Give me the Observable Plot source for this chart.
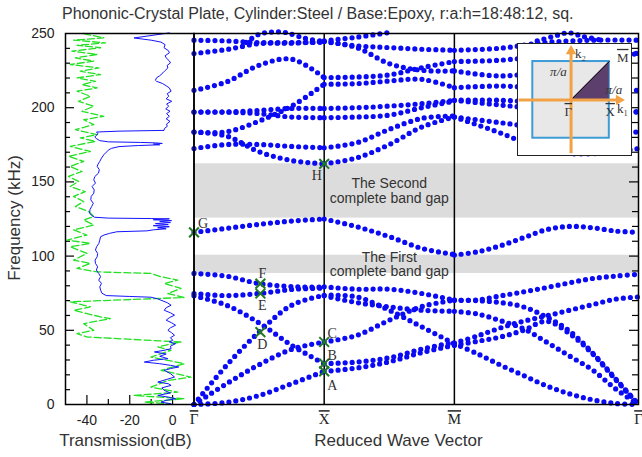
<!DOCTYPE html>
<html><head><meta charset="utf-8">
<script src="https://cdn.jsdelivr.net/npm/d3@7"></script>
<script src="https://cdn.jsdelivr.net/npm/@observablehq/plot@0.6"></script>
<style>
body{margin:0;background:#fff;font-family:"Liberation Sans",Arial,sans-serif;}
#wrap{position:relative;width:642px;height:457px;overflow:hidden;background:#fff;}
#wrap > svg, #wrap > figure{position:absolute;left:0;top:0;margin:0;}
#title{position:absolute;left:62px;top:5px;font-size:16px;color:#333;white-space:nowrap;}
#ylab{position:absolute;left:15px;top:218px;transform:translate(-50%,-50%) rotate(-90deg);font-size:17px;color:#333;white-space:nowrap;}
</style></head>
<body><div id="wrap"></div>
<script>
// ---------------- data ----------------
const titleText = "Phononic-Crystal Plate, Cylinder:Steel / Base:Epoxy, r:a:h=18:48:12, sq.";
const kX = 1, kM = 2, kEnd = 2 + Math.SQRT2;
const kTicks = [0, kX, kM, kEnd];
const kTickLabels = ["Γ", "X", "M", "Γ"];
const yTicks = [0, 50, 100, 150, 200, 250];
const dbTicks = [-40, -20, 0];

// fractions along each path segment
const u5 = [0, 0.25, 0.5, 0.75, 1];
const u9 = [0, 0.125, 0.25, 0.375, 0.5, 0.625, 0.75, 0.875, 1];

// Γ-X bands (kHz at u5)
const bandsGX = [
  [0, 1.4, 6.1, 14, 22.3],
  [0, 14, 26.8, 37.2, 42.1],
  [0, 26.4, 48.9, 66.9, 73.6],
  [73.2, 66.9, 55, 39.9, 27.5],
  [74.8, 73.4, 74.8, 77.5, 78.5],
  [88.3, 86.5, 81.5, 79.5, 79],
  [116, 118.7, 121.4, 123.6, 125],
  [183.6, 180.9, 170.3, 164.4, 162.2],
  [172.5, 175.2, 175.2, 173.9, 173],
  [183.6, 183.8, 191, 201.1, 215.8],
  [197.1, 197.1, 198.2, 199.5, 199.5],
  [197.1, 197, 196, 193.7, 193.3],
  [211.7, 217.4, 228.6, 232.7, 220.3],
  [236.5, 239.2, 243.2, 243.5, 244.6],
  [245.5, 245, 243.9, 243.9, 244.1]
];
// X-M bands (kHz at u5)
const bandsXM = [
  [125, 119.8, 113.1, 105.2, 101.1],
  [22.3, 24.6, 28.8, 35, 40],
  [27.5, 28.6, 31.5, 37.4, 41.8],
  [42.1, 46.6, 56.8, 66, 70.3],
  [73.6, 72.5, 63.5, 52.3, 41],
  [73.2, 68.7, 65.8, 63.5, 62.8],
  [79.3, 77.7, 77.7, 74.8, 70.3],
  [162.2, 166.2, 175.2, 187, 193.7],
  [173, 176.4, 185.4, 192.8, 194.4],
  [193.3, 193.7, 195, 200, 204.5],
  [199.5, 200, 201.1, 202.7, 205],
  [220.3, 220.7, 222.1, 227, 231.1],
  [215.8, 216.2, 218, 219.1, 213.5],
  [244.6, 240.5, 229.7, 225.2, 224.8],
  [244.6, 241.7, 240.5, 239.4, 238.7]
];
// M-Γ lower bands (kHz at u9)
const bandsMGlow = [
  [100.7, 102.9, 107, 112.4, 117.8, 120, 119.1, 116.9, 116],
  [70.3, 70.5, 73.2, 75.9, 78.8, 82, 84.9, 86.5, 87.8],
  [41.4, 46.2, 51.6, 56.1, 59.7, 63.5, 67.3, 71, 72.5],
  [39.9, 42.6, 45.5, 50, 56.1, 47.8, 34.3, 16.9, 0],
  [70.3, 70, 68.7, 65.8, 59, 49.5, 34.8, 17.4, 0],
  [62.8, 61, 56.5, 51.1, 42.1, 32.7, 23.3, 10.6, 0],
  [41, 34.2, 26.6, 19.6, 12.6, 7.2, 3.2, 0.7, 0]
];
// M-Γ upper bands (kHz at u5)
const bandsMGhigh = [
  [193.7, 183, 171, 169, 172.5],
  [193.7, 189.9, 186, 184, 183.6],
  [205, 205, 203, 200, 197.1],
  [205, 201.8, 199, 198, 197.1],
  [213.5, 214.6, 213, 212, 211.7],
  [224.8, 221.4, 225, 232, 236.5],
  [231.1, 232, 235, 237, 236.5],
  [238.7, 240.1, 244, 245.5, 245.5]
];
// short bands near the top edge
const gxTopU = [0.4, 0.5, 0.6, 0.7, 0.85, 1];
const gxTopF = [244, 249.5, 251, 250.7, 246.8, 244.6];
const xmTopU = [0, 0.25, 0.5];
const xmTopF = [245, 247.5, 250.7];
const mgTopU = [0.45, 0.55, 0.62, 0.7, 0.8];
const mgTopF = [245, 248.5, 250.5, 248, 245.5];

// complete band gaps (kHz)
const gapLo = [88.3, 125.6];
const gapHi = [100.6, 162.2];
const gapNames = ["The First\ncomplete band gap", "The Second\ncomplete band gap"];

// marked modes
const markLabels = ["A", "B", "C", "D", "E", "F", "G", "H"];
const markK = [1, 1, 1, 0.51, 0.51, 0.51, 0, 1];
const markF = [22.3, 27.5, 42.1, 48.8, 74.8, 81.5, 116, 162.2];

// transmission spectra (kHz, dB)
const blueF = [250.4,247,245.5,244.2,242.5,240.4,238.5,237,235,233.6,231.5,230.2,228.5,226.8,225,223.5,221.5,220.1,218.5,217.8,216.3,214.8,213.3,211.1,209.5,207.7,206,204.3,202.5,201,199.2,197.6,196,194.2,192.5,190.8,189,187.4,186,184.7,184.2,183.6,182.4,181.2,180.2,179,177.8,177,176.6,176.3,175.9,175.5,175,174.5,173.8,172.6,171.7,170,168.3,166,163.8,162,160.4,158.2,155.9,153.6,151.4,149.2,146.9,144.6,142.4,140.2,137.9,135.6,133.4,131.2,128.9,127.4,126.2,125.6,125.3,125.1,124.5,123.9,123.3,122.6,121.9,121.2,120.5,119.8,119.1,118.4,117.7,117,116.4,115.3,114.2,113.1,110.8,108.6,106.3,104.1,101.8,99.6,97.3,95.1,92.8,90.6,88.3,86.1,83.8,81.6,79.3,77.1,75,73.4,72.8,72.3,71.2,70.3,68.6,66.9,65.2,63.5,61.8,60.2,58.5,56.8,55.1,53.4,51.7,50,48.4,46.7,45,43.3,42.2,41,39.3,37.6,36.5,35.4,34,32.5,30.9,29.8,28.6,27.5,26.4,25.3,24.2,23,20.8,18.5,16.8,15.1,14,12.9,11.2,9.5,7.8,6.1,5,3.9,2.8,1.6,0.5];
const blueDb = [-1.5,-18,-10,-5.4,-3.5,-4,-2,-1.5,-3.5,-3,-1.5,-1,-2.5,-2.2,-3.5,-4.5,-6,-7.5,-8,-7.5,-4.7,-3,-1.5,-0.7,-2.5,-1.8,-3,-0.4,-2.8,-1.8,-3.2,-1.2,-2.8,-1.5,-3,-1.2,-2.8,-2.5,-3.8,-4,-25,-35.5,-34.8,-35.8,-36.3,-35.4,-34,-30,-15,-8,-4.8,-9,-6,-16,-25,-28.5,-29.7,-31,-32.1,-33.2,-34,-34.8,-35.2,-34.2,-34.6,-36.3,-36.8,-36,-37.6,-36.6,-36.8,-38,-38.2,-37,-37.8,-38.6,-38.7,-37.8,-36.5,-30,-10,-1.5,-9,-0.5,-6,-1,-8,-2,-9,-1.5,-7,-3,-9,-12,-26,-29.5,-32,-33.6,-34,-34.4,-35.5,-36,-35,-35.2,-36.2,-36,-35,-35.6,-34.5,-33.6,-34.5,-33.2,-34,-33.6,-33,-31,-20,-10.1,-7,-5.4,-2.5,-0.7,-3,-3.9,-1,0.9,-1.5,-3,-0.5,1.4,-1,-2.2,-0.5,0.9,-1,0.1,-1.5,1.4,-1,-0.7,-4,-8.5,-3,-6,-2.2,-9,-13.2,-6,-1,2.9,-1,-3.9,-1,0.9,-3,-6.9,-2,-0.7,-5,-3.9,-1,-6.9,-2,1.4,-3,-5.4,-0.7];
const greenF = [250,249.4,247.1,245.5,243.7,242,240.4,238.1,235.9,233.6,231.4,229.1,226.8,224.6,222.3,220.1,217.8,215.6,213.3,211.1,207.7,204.3,201,197.6,194.2,191.9,188.6,185.2,181.8,179.6,177.3,173.9,170.5,167.2,163.8,160.4,157,153.7,150.3,146.9,143.5,140.2,136.8,133.4,130,126.6,124.3,121,117.6,114.2,110.8,108.6,106.3,101.8,97.3,95.1,91.7,89.4,88.3,86.1,83.8,81.6,78.2,74.8,72.1,69.2,65.8,63.5,59,57.9,54.5,50,47.8,45.5,42.1,38.8,36.5,32,27.5,23,18.5,16.2,11.7,8.4,6.1,3.9,1.6,0.5];
const greenDb = [-41.5,-40,-32.1,-46.2,-31.3,-44.6,-33.6,-47,-35.2,-45.4,-36.8,-47.8,-34.4,-43.1,-33.6,-44.6,-36,-42.3,-35.2,-44.6,-38.4,-43.9,-36.8,-42.3,-32.1,-41.5,-36.8,-45.4,-35.2,-43.1,-36,-47.8,-38.4,-48.6,-41.5,-47.8,-42.3,-48.6,-43.9,-47.8,-40.8,-46.2,-41.5,-45.4,-39.2,-36.8,-41.5,-36.8,-46.2,-40,-49.3,-38.4,-47.8,-40,-46.2,-38.4,-44.6,-35.2,-10.1,-5.4,2.4,-3.9,3.9,-2.2,5.3,-47.8,-38.4,-46.2,-33.6,-29,-41.5,-36.8,-44.6,-39.9,3.9,-6.9,-0.7,-10.1,5.5,-5.4,8.6,-2.2,-10.1,2.4,-18,5.5,-13.2,-2.2];

// inset: first Brillouin zone (units of π/a)
const bzHalf = 1;
const ibzX = [0, 1];
const insetLabels = ["k₂", "M", "Γ", "X", "k₁"];
const insetLabelU = [0.1, 1.2, -0.17, 0.9, 1.2];
const insetLabelV = [1.2, 1.1, -0.31, -0.31, -0.23];
const piLabelU = [-0.33, 1.12];
const piLabelV = [0.74, 0.27];

// ---------------- build ----------------
const W = 642, H = 457;
const mL = 193.5, mR = 4, mT = 33, mB = 53;
const pxPerK = (W - mL - mR) / kEnd;
const pxPerF = (H - mT - mB) / 250;
const serif = "Liberation Serif, Times New Roman, serif";
const sans = "Liberation Sans, Arial, sans-serif";

const rows = [];
let bandId = 0;
function addLines(lines, grid, k0, len) {
  for (const f of lines) {
    const b = bandId++;
    f.forEach((v, i) => rows.push({band: b, k: k0 + grid[i] * len, f: v}));
  }
}
addLines(bandsGX, u5, 0, 1);
addLines(bandsXM, u5, kX, 1);
addLines(bandsMGlow, u9, kM, Math.SQRT2);
addLines(bandsMGhigh, u5, kM, Math.SQRT2);
addLines([gxTopF], gxTopU, 0, 1);
addLines([xmTopF], xmTopU, kX, 1);
addLines([mgTopF], mgTopU, kM, Math.SQRT2);

const gaps = gapLo.map((lo, i) => ({lo, hi: gapHi[i], name: gapNames[i], mid: (lo + gapHi[i]) / 2}));
const marks = markLabels.map((t, i) => ({t, k: markK[i], f: markF[i]}));
const rightTicks = d3.range(10, 250, 10).map(f => ({f, x1: kEnd - (f % 50 === 0 ? 9 : 6) / pxPerK}));

const labelOffsets = {A: [8, 14], B: [8, -8], C: [8, -8.5], D: [2, 12], E: [2, 12], F: [2, -10], G: [9, -9], H: [-7.5, 12]};

const main = Plot.plot({
  width: W, height: H, marginLeft: mL, marginRight: mR, marginTop: mT, marginBottom: mB,
  x: {domain: [0, kEnd], axis: null},
  y: {domain: [0, 250], axis: null},
  style: {background: "transparent", fontFamily: sans, overflow: "visible"},
  marks: [
    Plot.rect(gaps, {x1: 0, x2: kEnd, y1: "lo", y2: "hi", fill: "#dcdcdc"}),
    Plot.ruleX([kX, kM], {stroke: "#000", strokeWidth: 1.5}),
    Plot.ruleY(rightTicks, {x1: "x1", x2: kEnd, y: "f", stroke: "#000", strokeWidth: 1.2}),
    Plot.text(gaps, {x: 1.5, y: "mid", text: "name", fontSize: 14, lineHeight: 1.05, fill: "#333"}),
    Plot.line(rows, {x: "k", y: "f", z: "band", curve: "catmull-rom", stroke: "#0a0af5",
      strokeWidth: 5.2, strokeLinecap: "round", strokeDasharray: "0 7"}),
    Plot.dot(marks, {x: "k", y: "f", symbol: "times", r: 4.5, stroke: "#217a21", strokeWidth: 2}),
    ...marks.map(m => Plot.text([m], {x: "k", y: "f", text: "t", dx: labelOffsets[m.t][0], dy: labelOffsets[m.t][1],
      fontFamily: serif, fontSize: 14, fill: "#333"})),
    Plot.frame({stroke: "#000", strokeWidth: 1.5}),
    Plot.axisX({ticks: kTicks, tickFormat: d => kTickLabels[kTicks.indexOf(d)], tickSize: 0, tickPadding: 9,
      fontSize: 15, fontFamily: serif, fill: "#222", label: null}),
    Plot.text(["Reduced Wave Vector"], {x: 1.57, frameAnchor: "bottom", dy: 41, fontSize: 17, fill: "#333"})
  ]
});

const pxPerDb = (mL - 65) / 60;
const leftTicks = d3.range(10, 250, 10).map(f => ({f, x2: -50 + (f % 50 === 0 ? 9 : 5) / pxPerDb}));
const bottomTicks = [-40, -30, -20, -10, 0].map(d => ({d, y2: (d % 20 === 0 ? 9 : 5) / pxPerF}));
const blue = blueF.map((f, i) => ({f, db: blueDb[i]}));
const green = greenF.map((f, i) => ({f, db: greenDb[i]}));

const left = Plot.plot({
  width: W, height: H, marginLeft: 65, marginRight: W - mL, marginTop: mT, marginBottom: mB,
  x: {domain: [-50, 10], axis: null},
  y: {domain: [0, 250], axis: null},
  style: {background: "transparent", fontFamily: sans, overflow: "visible"},
  marks: [
    Plot.ruleY(leftTicks, {x1: -50, x2: "x2", y: "f", stroke: "#000", strokeWidth: 1.2}),
    Plot.ruleX(bottomTicks, {x: "d", y1: 0, y2: "y2", stroke: "#000", strokeWidth: 1.2}),
    Plot.line(green, {x: "db", y: "f", stroke: "#22e022", strokeWidth: 1.3, strokeDasharray: "7 3"}),
    Plot.line(blue, {x: "db", y: "f", stroke: "#1414ff", strokeWidth: 1}),
    Plot.frame({stroke: "#000", strokeWidth: 1.5}),
    Plot.axisY({ticks: yTicks, tickFormat: d => String(d), tickSize: 0, tickPadding: 11, fontSize: 14, fill: "#222", anchor: "left", label: null}),
    Plot.axisX({ticks: dbTicks, tickFormat: d => String(d), tickSize: 0, tickPadding: 11, fontSize: 14, fill: "#222", anchor: "bottom", label: null}),
    Plot.text(["Transmission(dB)"], {x: -22, frameAnchor: "bottom", dy: 41, fontSize: 17, fill: "#333"})
  ]
});

const axisLines = [{x1: -1.37, y1: 0, x2: 1.25, y2: 0, r: 90}, {x1: 0, y1: -1.39, x2: 0, y2: 1.27, r: 0}];
const inset = Plot.plot({
  width: 114, height: 112, margin: 0,
  x: {domain: [-1.40, 1.58], axis: null},
  y: {domain: [-1.45, 1.47], axis: null},
  style: {background: "#fff", fontFamily: serif, overflow: "visible"},
  marks: [
    Plot.rect([bzHalf], {x1: d => -d, x2: d => d, y1: d => -d, y2: d => d, fill: "#e8e8e8", stroke: "#3d9bd6", strokeWidth: 2}),
    Plot.areaY(ibzX, {x: d => d, y1: 0, y2: d => d, fill: "#5c3f6c"}),
    Plot.line(ibzX, {x: d => d, y: d => d, stroke: "#111", strokeWidth: 1}),
    Plot.link(axisLines, {x1: "x1", y1: "y1", x2: "x2", y2: "y2", stroke: "#f2a145", strokeWidth: 3}),
    Plot.dot(axisLines, {x: "x2", y: "y2", rotate: "r", symbol: "triangle2", r: 5, fill: "#f2a145", stroke: "none"}),
    Plot.text(insetLabels, {x: (d, i) => insetLabelU[i], y: (d, i) => insetLabelV[i], text: d => d, textAnchor: "start", fontSize: 13, fill: "#333"}),
    Plot.text(piLabelU, {x: d => d, y: (d, i) => piLabelV[i], text: () => "π/a", fontSize: 13, fontStyle: "italic", fill: "#333"}),
    Plot.frame({stroke: "#222", strokeWidth: 1})
  ]
});

const wrap = document.getElementById("wrap");
wrap.appendChild(main);
wrap.appendChild(left);
inset.style.left = "517px";
inset.style.top = "43px";
wrap.appendChild(inset);
const title = document.createElement("div");
title.id = "title"; title.textContent = titleText;
wrap.appendChild(title);
const ylab = document.createElement("div");
ylab.id = "ylab"; ylab.textContent = "Frequency (kHz)";
wrap.appendChild(ylab);

// symmetry-point labels carry an overbar
for (const svg of [main, inset]) {
  svg.querySelectorAll("text").forEach(t => {
    if (["Γ", "X", "M"].includes(t.textContent)) t.style.textDecoration = "overline";
  });
}
</script>
</body></html>
